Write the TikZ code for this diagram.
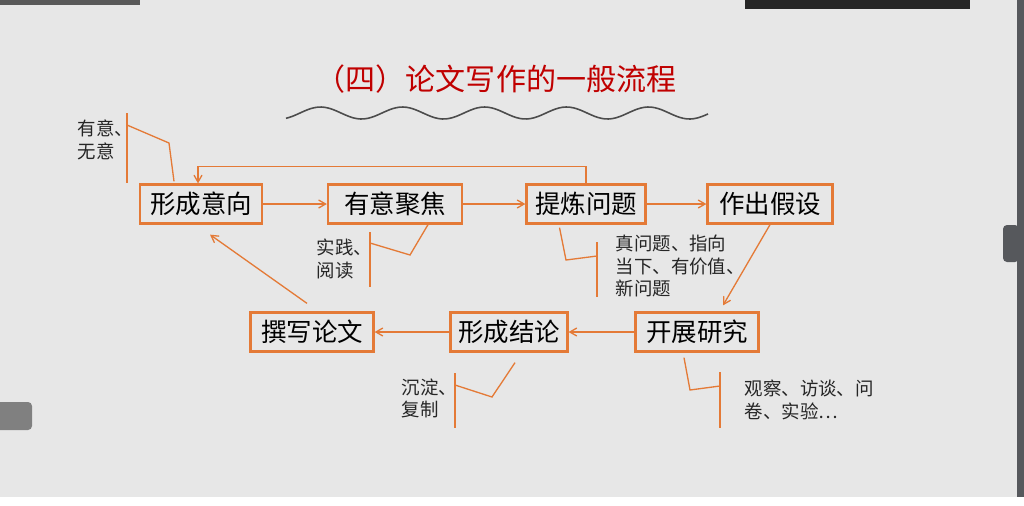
\documentclass[tikz,border=0pt]{standalone}
\usepackage{fontspec}
\setmainfont{Noto Sans CJK SC}
\usepackage{tikz}
\usetikzlibrary{arrows,positioning}
\definecolor{orng}{RGB}{228,122,55}
\definecolor{titlered}{RGB}{192,0,0}
\definecolor{slidebg}{RGB}{231,231,231}
\definecolor{chrome}{RGB}{86,88,92}
\tikzset{every picture/.style={line width=0.75pt}}
\tikzstyle{box}=[draw=orng,line width=1.3pt,minimum height=0.78cm,inner xsep=0.15cm,font=\fontsize{14.5}{17}\selectfont,text=black]
\tikzstyle{note}=[anchor=west,inner sep=0pt,align=left,font=\fontsize{10.5}{13}\selectfont,text=black!85]
\tikzstyle{leader}=[draw=orng,line width=0.75pt]

\begin{document}
\begin{tikzpicture}[x=0.02cm,y=-0.02cm]
\useasboundingbox (0,0) rectangle (1024,505);
% slide and screen frame
\fill[slidebg] (0,0) rectangle (1024,497);
\fill[white] (0,497) rectangle (1024,505);
\fill[chrome] (1017,0) rectangle (1024,497);
\fill[gray!70!black] (0,0) rectangle (140,5);
\fill[black!85] (745,0) rectangle (970,9);
\fill[chrome,rounded corners=0.08cm] (1003,225) rectangle (1019,262);
\fill[gray,rounded corners=0.08cm] (-5,402) rectangle (32,430);
% title
\node[font=\fontsize{17.1}{20}\selectfont,text=titlered] (title) at (496,79) {（四）论文写作的一般流程};
\draw[gray!60!black,line width=0.9pt] plot[domain=286:708,samples=120,smooth] (\x,{113-6*sin((\x-300)*4.39)});
% steps
\node[box,minimum width=2.44cm] (yx) at (201,204) {形成意向};
\node[box,minimum width=2.68cm] (jj) at (395,204) {有意聚焦};
\node[box,minimum width=2.38cm] (tl) at (586,204) {提炼问题};
\node[box,minimum width=2.5cm] (jd) at (770,204) {作出假设};
\node[box,minimum width=2.46cm] (zx) at (312,332) {撰写论文};
\node[box,minimum width=2.32cm] (jl) at (509,332) {形成结论};
\node[box,minimum width=2.46cm] (kz) at (697,332) {开展研究};
\path[->,draw=orng,>=angle 60]
(yx) edge (jj)
(jj) edge (tl)
(tl) edge (jd)
(kz) edge (jl)
(jl) edge (zx);
\draw[->,orng,>=angle 60] (jd.south) -- ([xshift=0.52cm,yshift=0.12cm]kz.north);
\draw[->,orng,>=angle 60] ([xshift=-0.1cm,yshift=0.16cm]zx.north) -- ([xshift=0.18cm,yshift=-0.2cm]yx.south);
\draw[->,orng,>=angle 60] (tl.north) -- ++(0,-17) -| ([xshift=-0.06cm]yx.north);
% notes
\node[note] (n1) at (77,139.5) {有意、\\无意};
\draw[leader] (127,113) -- (127,183);
\draw[leader] (127,125) -- (169,143) -- ([xshift=-0.54cm,yshift=0.04cm]yx.north);
\node[note] (n2) at (316,259) {实践、\\阅读};
\draw[leader] (370,232) -- (370,287);
\draw[leader] (370,243) -- (410,255) -- ([xshift=0.66cm]jj.south);
\node[note] (n3) at (615,266) {真问题、指向\\当下、有价值、\\新问题};
\draw[leader] (597,242) -- (597,297);
\draw[leader] ([xshift=-0.53cm,yshift=-0.06cm]tl.south) -- (566,260) -- (597,256);
\node[note] (n4) at (401,398.5) {沉淀、\\复制};
\draw[leader] (455,373) -- (455,428);
\draw[leader] (455,385) -- (492,397) -- ([xshift=0.12cm,yshift=-0.2cm]jl.south);
\node[note] (n5) at (744,399.5) {观察、访谈、问\\卷、实验…};
\draw[leader] (720,372) -- (720,428);
\draw[leader] ([xshift=-0.26cm,yshift=-0.1cm]kz.south) -- (690,390) -- (720,386);
\end{tikzpicture}
\end{document}
